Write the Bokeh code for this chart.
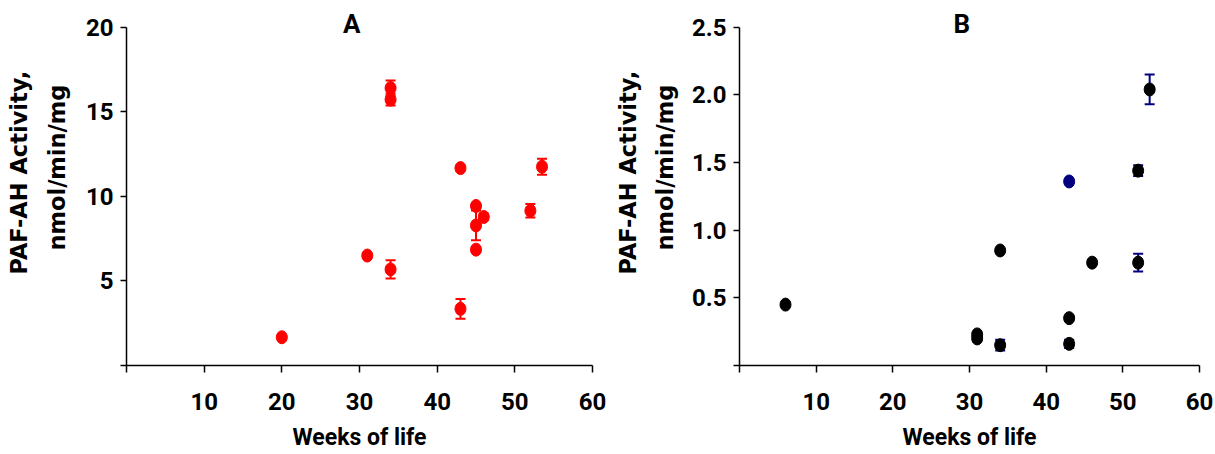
from bokeh.plotting import figure
from bokeh.layouts import row
from bokeh.models import ColumnDataSource, Whisker, TeeHead, Label, Title, FixedTicker, Range1d
from bokeh.embed import file_html
from bokeh.resources import INLINE

# ---------------- data ----------------
# Panel A : PAF-AH activity (nmol/min/mg) vs weeks of life
a_weeks = [20, 31, 34, 34, 34, 43, 43, 45, 45, 45, 46, 52, 53.5]
a_activity = [1.67, 6.5, 5.68, 16.4, 15.72, 11.67, 3.35, 9.43, 8.28, 6.85, 8.78, 9.15, 11.75]
a_error = [0, 0.12, 0.54, 0.45, 0.35, 0.15, 0.58, 0.15, 0.88, 0.15, 0.2, 0.4, 0.47]

# Panel B
b_weeks = [6, 31, 31, 34, 34, 43, 43, 46, 52, 52, 53.5]
b_activity = [0.45, 0.23, 0.20, 0.15, 0.85, 0.35, 0.16, 0.76, 1.44, 0.76, 2.04]
b_error = [0, 0, 0.02, 0.04, 0, 0.02, 0.03, 0, 0.04, 0.065, 0.11]
b_blue_weeks = [43]
b_blue_activity = [1.36]

x_ticks = [0, 10, 20, 30, 40, 50, 60]
a_y_ticks = [0, 5, 10, 15, 20]
b_y_ticks = [0, 0.5, 1.0, 1.5, 2.0, 2.5]
b_y_labels = ["", "0.5", "1.0", "1.5", "2.0", "2.5"]

ylab1 = "PAF-AH Activity,"
ylab2 = "nmol/min/mg"
xlab = "Weeks of life"

SANS = "Roboto"
TICK_SIZE = "24px"
# the frame reaches a little above the top tick, so the panel letter fits inside it
HEADROOM = 355 / 338.3


def base_fig(width, border_left, border_right, y_top, yticks, yoverrides):
    p = figure(width=width, height=454, x_range=Range1d(0, 60),
               y_range=Range1d(0, y_top * HEADROOM),
               output_backend="svg", toolbar_location=None,
               min_border_left=border_left, min_border_right=border_right,
               min_border_top=10, min_border_bottom=89)
    p.outline_line_color = None
    p.grid.visible = False
    for ax in (p.xaxis[0], p.yaxis[0]):
        ax.axis_line_width = 1.5
        ax.axis_line_color = "black"
        ax.major_tick_line_width = 1.5
        ax.major_tick_line_color = "black"
        ax.major_tick_in = 0
        ax.minor_tick_in = 0
        ax.minor_tick_out = 0
        ax.major_label_text_font = SANS
        ax.major_label_text_font_style = "bold"
        ax.major_label_text_font_size = TICK_SIZE
        ax.major_label_text_color = "black"
    xa = p.xaxis[0]
    xa.ticker = FixedTicker(ticks=x_ticks)
    xa.major_label_overrides = {0: ""}
    xa.major_tick_out = 7
    xa.major_label_standoff = 20
    xa.axis_label = xlab
    xa.axis_label_text_font = SANS
    xa.axis_label_text_font_style = "bold"
    xa.axis_label_text_font_size = "23px"
    xa.axis_label_text_color = "black"
    xa.axis_label_standoff = 11
    ya = p.yaxis[0]
    ya.ticker = FixedTicker(ticks=yticks)
    ya.major_label_overrides = yoverrides
    ya.major_tick_out = 6
    ya.major_label_standoff = 7
    ya.bounds = (0, y_top)
    return p


def add_ylabel(p, inner_gap):
    # inner line first (closest to the axis), then the outer line
    for txt, off, gap in ((ylab2, 115, inner_gap), (ylab1, 91, 0)):
        p.add_layout(Title(text=txt, align="left", vertical_align="top", offset=off,
                           standoff=gap, text_font="DejaVu Sans", text_font_style="bold",
                           text_font_size="22.5px", text_color="black"), "left")


def add_errors(p, xs, ys, es, color):
    sel = [i for i, e in enumerate(es) if e > 0]
    src = ColumnDataSource(dict(x=[xs[i] for i in sel],
                                upper=[ys[i] + es[i] for i in sel],
                                lower=[ys[i] - es[i] for i in sel]))
    p.add_layout(Whisker(base="x", upper="upper", lower="lower", source=src,
                         line_color=color, line_width=2,
                         upper_head=TeeHead(size=10, line_color=color, line_width=2),
                         lower_head=TeeHead(size=10, line_color=color, line_width=2)))


def add_letter(p, txt, y):
    p.add_layout(Label(x=29, y=y, text=txt, text_align="center", text_baseline="alphabetic",
                       text_font=SANS, text_font_style="bold", text_font_size="26px",
                       text_color="black"))


# ---------------- panel A ----------------
pa = base_fig(614, 126, 22, 20, a_y_ticks, {0: ""})
add_errors(pa, a_weeks, a_activity, a_error, "#FF0000")
pa.ellipse(x=a_weeks, y=a_activity, width=11, height=13, width_units="screen",
           height_units="screen", fill_color="#FF0000", line_color="#FF0000")
add_ylabel(pa, 21)
add_letter(pa, "A", 20.2)

# ---------------- panel B ----------------
pb = base_fig(601, 124, 16, 2.5, b_y_ticks, dict(zip(b_y_ticks, b_y_labels)))
add_errors(pb, b_weeks, b_activity, b_error, "#000080")
pb.ellipse(x=b_weeks, y=b_activity, width=11, height=13, width_units="screen",
           height_units="screen", fill_color="black", line_color="black")
pb.ellipse(x=b_blue_weeks, y=b_blue_activity, width=11, height=13, width_units="screen",
           height_units="screen", fill_color="#000080", line_color="#000080")
add_ylabel(pb, 18)
add_letter(pb, "B", 2.525)

layout = row(pa, pb)
open("out.html", "w").write(file_html(layout, INLINE))
